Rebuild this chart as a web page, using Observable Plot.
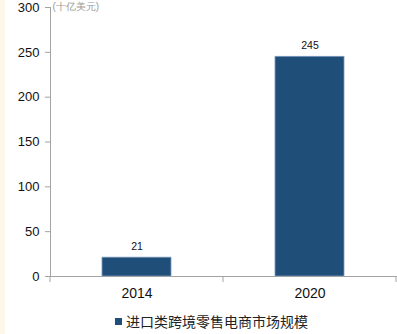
<!DOCTYPE html>
<html>
<head>
<meta charset="utf-8">
<script src="https://cdn.jsdelivr.net/npm/d3@7"></script>
<script src="https://cdn.jsdelivr.net/npm/@observablehq/plot@0.6"></script>
<style>
  body { margin: 0; background: #ffffff; font-family: "Liberation Sans", Arial, sans-serif; }
  #wrap { position: relative; width: 397px; height: 334px; overflow: hidden; }
  #edge { position: absolute; left: 0; top: 0; width: 5px; height: 334px; background: #fdf7e9; }
  #chart { position: absolute; left: 0; top: 0; }
  #legend { position: absolute; left: 115px; top: 311px; display: flex; align-items: center;
            font-family: "Noto Sans CJK SC", sans-serif; font-size: 14px; color: #222; white-space: nowrap; }
  #legend .sw { width: 7px; height: 7px; margin-right: 4px; }
</style>
</head>
<body>
<div id="wrap">
  <div id="edge"></div>
  <div id="chart"></div>
  <div id="legend"></div>
</div>
<script>
// Import cross-border retail e-commerce market size (billion USD)
const years = ["2014", "2020"];
const values = [21, 245];
const yTicks = [0, 50, 100, 150, 200, 250, 300];
const seriesName = "进口类跨境零售电商市场规模";
const unitLabel = "(十亿美元)";

const barColor = "#1f4e79";
const axisColor = "#a3a3a3";

const rows = years.map((year, i) => ({year, value: values[i]}));

const chart = Plot.plot({
  width: 397,
  height: 305,
  marginLeft: 50,
  marginRight: 0,
  marginTop: 7,
  marginBottom: 29,
  style: {fontFamily: "'Liberation Sans', Arial, sans-serif", background: "transparent"},
  x: {domain: years, paddingInner: 0.6, paddingOuter: 0.3, label: null},
  y: {domain: [0, 300], label: null},
  marks: [
    Plot.barY(rows, {x: "year", y: "value", fill: barColor, stroke: "#7d9bbd", strokeWidth: 0.8}),
    Plot.text(rows, {x: "year", y: "value", text: d => String(d.value), lineAnchor: "bottom",
      dy: -8, fontSize: 10.5, fill: "#111", letterSpacing: 0.3}),
    Plot.axisY({ticks: yTicks, tickSize: 5, tickPadding: 6, fontSize: 13, stroke: axisColor,
      fill: "#111", letterSpacing: 0.8}),
    Plot.axisX({tickSize: 0, tickPadding: 12, fontSize: 14, fill: "#111", letterSpacing: 0.3}),
    Plot.frame({anchor: "left", stroke: axisColor}),
    Plot.ruleY([0], {stroke: axisColor}),
    Plot.text([unitLabel], {frameAnchor: "top-left", dx: 2, dy: -1, lineAnchor: "middle",
      textAnchor: "start", fontSize: 10, fill: "#9a9a9a"})
  ]
});

// Category-boundary tick marks below the x axis
const xs = chart.scale("x");
const ys = chart.scale("y");
const gap = xs.step - xs.bandwidth;
const bounds = years.map(y => xs.apply(y) - gap / 2);
bounds.push(xs.apply(years[years.length - 1]) + xs.bandwidth + gap / 2);
const y0 = ys.apply(0);
d3.select(chart).append("g")
  .selectAll("line").data(bounds).join("line")
  .attr("x1", d => d).attr("x2", d => d)
  .attr("y1", y0).attr("y2", y0 + 6)
  .attr("stroke", axisColor);

document.getElementById("chart").append(chart);

const legend = document.getElementById("legend");
legend.innerHTML = `<div class="sw" style="background:${barColor}"></div><span>${seriesName}</span>`;
</script>
</body>
</html>
